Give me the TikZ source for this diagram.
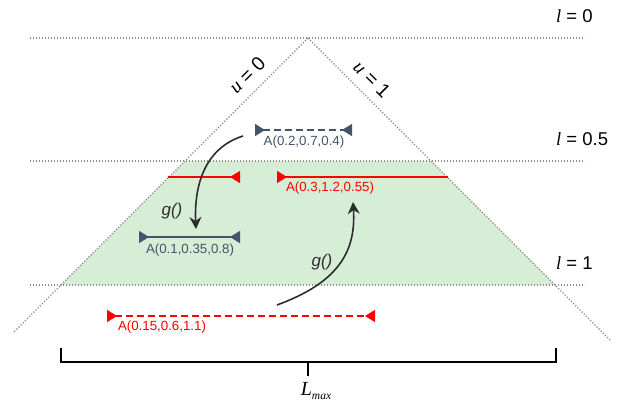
\documentclass[tikz,border=0pt]{standalone}
\usepackage{fontspec}
\setmainfont{Liberation Sans}
\newfontfamily\varfont{Liberation Serif}
\usetikzlibrary{arrows.meta, positioning}
\definecolor{slate}{RGB}{68,84,106}
\definecolor{zonegreen}{RGB}{214,237,214}
\definecolor{darkarrow}{RGB}{45,45,45}
\tikzset{
    inward/.tip={Triangle[reversed, length=10pt, width=12pt]},
    guide/.style={gray!90, line width=1.3pt, dash pattern=on 1.3pt off 1.7pt},
    segline/.style={line width=1.4pt},
    segdash/.style={segline, dash pattern=on 7pt off 4pt},
    seglabel/.style={font=\fontsize{13.3}{15}\selectfont, inner sep=0pt},
    levellabel/.style={font=\fontsize{18.5}{21}\selectfont, inner sep=0pt, anchor=west},
    sidelabel/.style={font=\fontsize{19.5}{22}\selectfont, inner sep=0pt},
    mapping/.style={-{Stealth[length=12pt, width=12pt]}, line width=1.6pt, draw=darkarrow},
    maplabel/.style={font=\fontsize{17}{20}\selectfont\itshape, text=darkarrow, inner sep=0pt}
}
\newcommand{\var}[1]{{\varfont\itshape #1}}

\begin{document}
\begin{tikzpicture}[x=1pt, y=-1pt]
        \useasboundingbox (0,0) rectangle (619,412);

        % -----------------------------------------------------------------
        % ZONA AMMISSIBILE
        % -----------------------------------------------------------------
        \fill[zonegreen] (185,161) -- (431,161) -- (555,285) -- (61,285) -- cycle;

        % -----------------------------------------------------------------
        % LIVELLI E LATI
        % -----------------------------------------------------------------
        \coordinate (apex) at (308,38);
        \coordinate (leftend) at (13,333);
        \coordinate (rightend) at (610,340);
        \foreach \y/\lev in {38/0, 161/0.5, 285/1} {
            \draw[guide] (30,\y) -- (585,\y);
            \node[levellabel] (lev\lev) at (556,\y-22) {\var{l} = \lev};
        }
        \draw[guide] (apex) -- (leftend);
        \draw[guide] (apex) -- (rightend);
        \node[sidelabel, rotate=45] (uzero) at (247,75) {\var{u} = 0};
        \node[sidelabel, rotate=-45] (uone) at (372,79) {\var{u} = 1};

        % -----------------------------------------------------------------
        % SEGMENTI
        % -----------------------------------------------------------------
        \coordinate (aL) at (255,130); \coordinate (aR) at (352,130);
        \draw[segdash, slate, {inward}-{inward}] (aL) -- (aR);
        \node[seglabel, text=slate] (alab) at (304,142) {A(0.2,0.7,0.4)};

        \coordinate (bL) at (168,177); \coordinate (bR) at (240,177);
        \draw[segline, red, -{inward}] (bL) -- (bR);

        \coordinate (cL) at (277,177); \coordinate (cR) at (448,177);
        \draw[segline, red, {inward}-] (cL) -- (cR);
        \node[seglabel, text=red] (clab) at (330,188) {A(0.3,1.2,0.55)};

        \coordinate (dL) at (139,237); \coordinate (dR) at (240,237);
        \draw[segline, slate, {inward}-{inward}] (dL) -- (dR);
        \node[seglabel, text=slate] (dlab) at (190,250) {A(0.1,0.35,0.8)};

        \coordinate (eL) at (107,316); \coordinate (eR) at (375,316);
        \draw[segdash, red, {inward}-{inward}] (eL) -- (eR);
        \node[seglabel, text=red] (elab) at (162,327) {A(0.15,0.6,1.1)};

        % -----------------------------------------------------------------
        % MAPPE g()
        % -----------------------------------------------------------------
        \coordinate (g1s) at (243,136); \coordinate (g1e) at (196,229);
        \draw[mapping] (g1s) .. controls (205,148) and (194,185) .. (g1e);
        \node[maplabel] (g1lab) at (172,211) {g()};

        \coordinate (g2s) at (277,305); \coordinate (g2e) at (353,202);
        \draw[mapping] (g2s) .. controls (340,282) and (356,250) .. (g2e);
        \node[maplabel] (g2lab) at (322,262) {g()};

        % -----------------------------------------------------------------
        % LUNGHEZZA MASSIMA
        % -----------------------------------------------------------------
        \coordinate (brL) at (61,348); \coordinate (brR) at (556,348);
        \coordinate (brM) at (308,362);
        \draw[line width=1.4pt] (brL) -- ++(0,14) -| (brR);
        \draw[line width=1.4pt] (brM) -- ++(0,14) coordinate (brTip);
        \node[font=\fontsize{20}{23}\selectfont, inner sep=0pt] (lmax) at (316,391) {\var{L}\raisebox{-4pt}{\fontsize{11.5}{13}\selectfont\var{max}}};

    \end{tikzpicture}
\end{document}
